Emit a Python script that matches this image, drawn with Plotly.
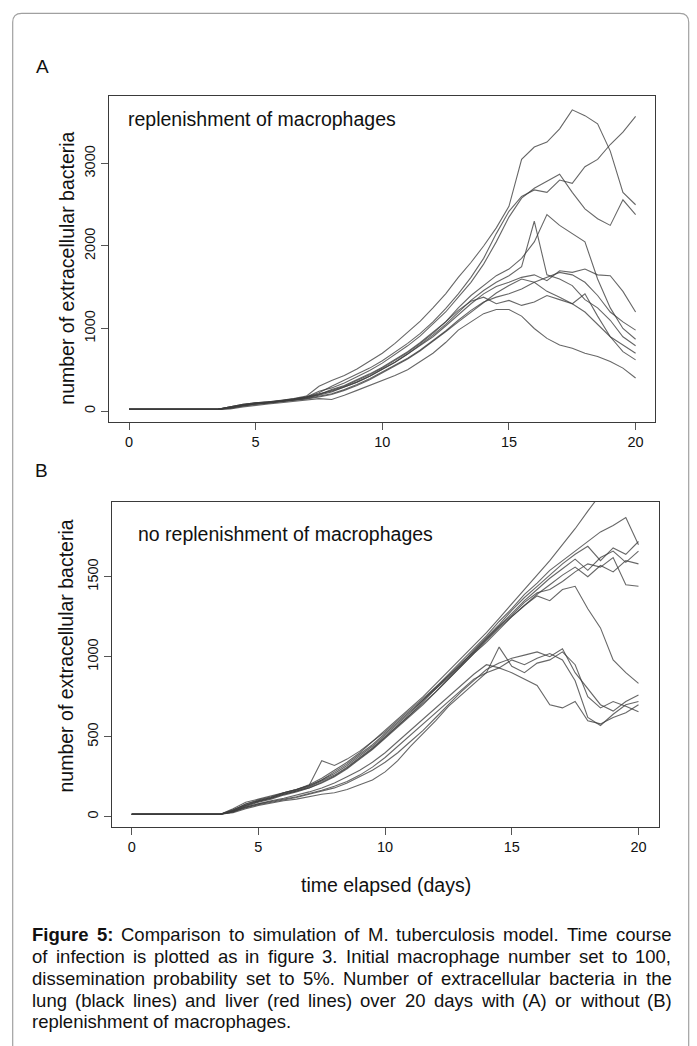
import plotly.graph_objects as go

# ---------------- data ----------------
DAYS = [i * 0.5 for i in range(41)]
START_A = [20, 20, 20, 20, 20, 20, 20, 20]
START_B = [15, 15, 15, 15, 15, 15, 15, 15]

# Panel A: with replenishment of macrophages (days 4.0 .. 20.0, step 0.5)
A1 = [50, 80, 100, 110, 130, 150, 180, 300, 370, 430, 510, 600, 700, 820, 950, 1090, 1250, 1420, 1620, 1800, 2000, 2220, 2480, 3050, 3200, 3260, 3420, 3650, 3580, 3480, 3150, 2650, 2500]
A2 = [40, 70, 90, 100, 120, 140, 170, 220, 300, 370, 440, 520, 610, 710, 820, 940, 1080, 1240, 1420, 1620, 1850, 2150, 2420, 2600, 2680, 2650, 2800, 2760, 2960, 3050, 3230, 3380, 3570]
A3 = [50, 75, 95, 105, 125, 145, 170, 240, 280, 340, 410, 490, 580, 680, 790, 910, 1050, 1200, 1380, 1560, 1780, 2050, 2350, 2580, 2700, 2780, 2870, 2650, 2450, 2330, 2250, 2560, 2380]
A4 = [45, 70, 90, 105, 120, 140, 160, 200, 250, 300, 370, 440, 520, 610, 710, 820, 940, 1080, 1250, 1400, 1520, 1640, 1720, 1850, 2050, 2380, 2250, 2150, 2050, 1600, 1250, 1000, 870]
A5 = [35, 65, 85, 100, 115, 135, 155, 190, 230, 290, 350, 420, 500, 590, 690, 800, 920, 1050, 1200, 1340, 1460, 1560, 1640, 1750, 2300, 1650, 1600, 1520, 1350, 1250, 1100, 900, 790]
A6 = [50, 80, 100, 110, 125, 145, 170, 210, 240, 290, 350, 420, 500, 590, 690, 790, 900, 1030, 1170, 1300, 1420, 1510, 1560, 1620, 1650, 1580, 1700, 1680, 1720, 1650, 1640, 1450, 1200]
A7 = [40, 65, 85, 95, 110, 130, 150, 180, 210, 260, 320, 390, 470, 550, 640, 740, 850, 970, 1100, 1220, 1320, 1380, 1420, 1480, 1560, 1620, 1680, 1650, 1560, 1400, 1200, 1080, 980]
A8 = [30, 60, 80, 95, 110, 125, 145, 170, 200, 250, 310, 380, 460, 540, 630, 730, 840, 960, 1080, 1200, 1320, 1430, 1520, 1600, 1560, 1450, 1380, 1300, 1420, 1150, 900, 720, 620]
A9 = [25, 50, 70, 85, 100, 115, 130, 150, 140, 190, 250, 310, 370, 430, 500, 600, 700, 830, 980, 1080, 1180, 1230, 1230, 1150, 1000, 880, 800, 760, 700, 660, 600, 520, 400]
A10 = [45, 75, 95, 105, 120, 140, 165, 200, 260, 310, 380, 450, 530, 620, 720, 830, 950, 1080, 1220, 1330, 1380, 1300, 1340, 1280, 1320, 1400, 1350, 1300, 1200, 1050, 900, 800, 700]

# Panel B: no replenishment of macrophages (days 4.0 .. 20.0, step 0.5)
B1 = [40, 80, 100, 120, 150, 170, 200, 240, 290, 340, 400, 470, 540, 610, 680, 750, 830, 910, 990, 1070, 1150, 1240, 1330, 1420, 1510, 1600, 1700, 1800, 1910, 2020, 2120, 2220, 2330]
B2 = [50, 90, 110, 130, 150, 170, 195, 350, 320, 360, 410, 470, 530, 600, 670, 740, 810, 890, 970, 1050, 1130, 1220, 1300, 1390, 1460, 1540, 1600, 1660, 1720, 1780, 1820, 1870, 1700]
B3 = [35, 70, 95, 115, 140, 160, 185, 220, 260, 310, 370, 430, 500, 570, 640, 720, 800, 880, 950, 1040, 1120, 1200, 1290, 1370, 1440, 1510, 1580, 1640, 1690, 1600, 1680, 1640, 1720]
B4 = [45, 75, 100, 120, 145, 165, 190, 230, 270, 320, 380, 440, 510, 580, 650, 730, 810, 880, 960, 1030, 1110, 1190, 1270, 1350, 1420, 1490, 1550, 1610, 1540, 1620, 1660, 1590, 1660]
B5 = [30, 65, 90, 110, 135, 155, 180, 210, 250, 300, 360, 420, 490, 560, 630, 700, 780, 860, 940, 1020, 1090, 1170, 1250, 1320, 1390, 1450, 1510, 1560, 1500, 1570, 1530, 1600, 1580]
B6 = [40, 80, 105, 125, 150, 170, 195, 230, 280, 330, 390, 450, 520, 590, 660, 730, 800, 870, 950, 1030, 1110, 1190, 1260, 1340, 1400, 1420, 1470, 1530, 1580, 1560, 1620, 1450, 1440]
B7 = [35, 70, 95, 115, 140, 160, 180, 215, 255, 305, 365, 425, 495, 565, 635, 705, 780, 860, 940, 1020, 1100, 1180, 1250, 1320, 1380, 1350, 1420, 1440, 1300, 1180, 980, 900, 833]
B8 = [30, 55, 75, 90, 105, 120, 140, 160, 180, 210, 250, 290, 340, 400, 470, 540, 620, 700, 780, 850, 920, 960, 990, 1010, 1030, 1000, 1050, 900, 800, 700, 660, 720, 760]
B9 = [25, 50, 70, 85, 100, 110, 125, 140, 150, 170, 200, 230, 280, 350, 440, 520, 600, 690, 760, 830, 900, 1060, 940, 900, 960, 980, 1030, 950, 750, 680, 720, 690, 656]
B10 = [35, 60, 80, 95, 110, 125, 145, 165, 190, 220, 260, 310, 370, 440, 510, 580, 650, 720, 790, 860, 900, 930, 900, 860, 820, 700, 680, 720, 600, 580, 620, 650, 700]
B11 = [30, 60, 80, 100, 115, 135, 155, 180, 210, 250, 290, 340, 400, 470, 540, 610, 680, 750, 820, 890, 950, 930, 980, 950, 990, 1020, 980, 850, 620, 570, 640, 700, 720]

SERIES_A = [A1, A2, A3, A4, A5, A6, A7, A8, A9, A10]
SERIES_B = [B1, B2, B3, B4, B5, B6, B7, B8, B9, B10, B11]

X_TICKS = [0, 5, 10, 15, 20]
Y_TICKS_A = [0, 1000, 2000, 3000]
Y_TICKS_B = [0, 500, 1000, 1500]

CAPTION = [
    [("Figure", True), ("5:", True), ("Comparison", False), ("to", False), ("simulation", False), ("of", False),
     ("M.", False), ("tuberculosis", False), ("model.", False), ("Time", False), ("course", False)],
    "of infection is plotted as in figure 3. Initial macrophage number set to 100,",
    "dissemination probability set to 5%. Number of extracellular bacteria in the",
    "lung (black lines) and liver (red lines) over 20 days with (A) or without (B)",
    "replenishment of macrophages.",
]

# ---------------- layout helpers ----------------
W, H = 697, 1046
FONT = "Liberation Sans, Arial, Helvetica, sans-serif"


def px(x):
    return x / W


def py(y):
    return 1 - y / H


LINE = dict(color="rgba(60,60,60,0.78)", width=1.1)

fig = go.Figure()
for s in SERIES_A:
    fig.add_trace(go.Scatter(x=DAYS, y=START_A + s, mode="lines", line=LINE,
                             xaxis="x", yaxis="y", showlegend=False, hoverinfo="skip"))
for s in SERIES_B:
    fig.add_trace(go.Scatter(x=DAYS, y=START_B + s, mode="lines", line=LINE,
                             xaxis="x2", yaxis="y2", showlegend=False, hoverinfo="skip"))

axis_common = dict(showline=True, mirror=True, linecolor="#3a3a3a", linewidth=1.4,
                   ticks="outside", ticklen=7, tickwidth=1.2, tickcolor="#555",
                   showgrid=False, zeroline=False,
                   tickfont=dict(family=FONT, size=14.5, color="#111"))

fig.update_layout(
    width=W, height=H, margin=dict(l=0, r=0, t=0, b=0),
    paper_bgcolor="white", plot_bgcolor="white",
    xaxis=dict(domain=[px(109.3), px(655)], range=[-0.778, 20.766], tickvals=X_TICKS,
               anchor="y", **axis_common),
    yaxis=dict(domain=[py(421.7), py(96)], range=[-129.7, 3818], tickvals=Y_TICKS_A,
               tickangle=-90, anchor="x", **axis_common),
    xaxis2=dict(domain=[px(112.3), px(659)], range=[-0.766, 20.81], tickvals=X_TICKS,
                anchor="y2", **axis_common),
    yaxis2=dict(domain=[py(826.7), py(501.7)], range=[-62.5, 1968.75], tickvals=Y_TICKS_B,
                tickangle=-90, anchor="x2", **axis_common),
)

ann = []


def text(t, x, y, size, xanchor="center", yanchor="middle", angle=0, color="#111"):
    ann.append(dict(text=t, x=px(x), y=py(y), xref="paper", yref="paper", showarrow=False,
                    xanchor=xanchor, yanchor=yanchor, textangle=angle, borderpad=0,
                    font=dict(family=FONT, size=size, color=color)))


text("A", 42, 67, 19)
text("B", 41, 470, 19)
text("replenishment of macrophages", 127, 119.3, 19.5, xanchor="left")
text("no replenishment of macrophages", 136.7, 534, 19.5, xanchor="left")
text("number of extracellular bacteria", 66.7, 268, 19.5, angle=-90)
text("number of extracellular bacteria", 65, 656.5, 19.5, angle=-90)
text("time elapsed (days)", 385.5, 885, 19.5)

# ---- justified caption (Arial / Liberation Sans metrics) ----
REG = {' ': 278, '!': 278, '%': 889, '(': 333, ')': 333, ',': 278, '-': 333, '.': 278, ':': 278,
       'A': 667, 'B': 667, 'C': 722, 'D': 722, 'E': 667, 'F': 611, 'G': 778, 'H': 722, 'I': 278,
       'J': 500, 'K': 667, 'L': 556, 'M': 833, 'N': 722, 'O': 778, 'P': 667, 'Q': 778, 'R': 722,
       'S': 667, 'T': 611, 'U': 722, 'V': 667, 'W': 944, 'X': 667, 'Y': 667, 'Z': 611,
       'a': 556, 'b': 556, 'c': 500, 'd': 556, 'e': 556, 'f': 278, 'g': 556, 'h': 556, 'i': 222,
       'j': 222, 'k': 500, 'l': 222, 'm': 833, 'n': 556, 'o': 556, 'p': 556, 'q': 556, 'r': 333,
       's': 500, 't': 278, 'u': 556, 'v': 500, 'w': 722, 'x': 500, 'y': 500, 'z': 500}
BOLD = {'F': 611, 'i': 278, 'g': 611, 'u': 611, 'r': 389, 'e': 556, '5': 556, ':': 333}
for d in "0123456789":
    REG[d] = 556

CAP_SIZE = 18.5
CAP_LEFT, CAP_RIGHT = 31, 670.5
CAP_Y = [934, 956, 978, 1000, 1021.7]


def wwidth(word, bold):
    tab = BOLD if bold else REG
    return sum(tab.get(c, REG.get(c, 556)) for c in word) * CAP_SIZE / 1000.0


for i, line in enumerate(CAPTION):
    words = line if isinstance(line, list) else [(w, False) for w in line.split(" ")]
    widths = [wwidth(w, b) for w, b in words]
    last = i == len(CAPTION) - 1
    if last:
        gap = REG[' '] * CAP_SIZE / 1000.0
    else:
        gap = (CAP_RIGHT - CAP_LEFT - sum(widths)) / (len(words) - 1)
    x = CAP_LEFT
    for (w, b), wd in zip(words, widths):
        text("<b>%s</b>" % w if b else w, x, CAP_Y[i], CAP_SIZE, xanchor="left")
        x += wd + gap

fig.update_layout(annotations=ann)

# outer rounded frame
L, R, T, Bt, r = 12.7, 688.7, 13.3, 1080, 9
path = ("M {a},{b} L {c},{b} Q {d},{b} {d},{e} L {d},{f} L {g},{f} L {g},{e} Q {g},{b} {a},{b}"
        .format(a=px(L + r), b=py(T), c=px(R - r), d=px(R), e=py(T + r), f=py(Bt), g=px(L)))
fig.add_shape(type="path", path=path, xref="paper", yref="paper",
              line=dict(color="#a0a0a0", width=1.2), fillcolor="rgba(0,0,0,0)", layer="below")

fig.write_html("out.html")
